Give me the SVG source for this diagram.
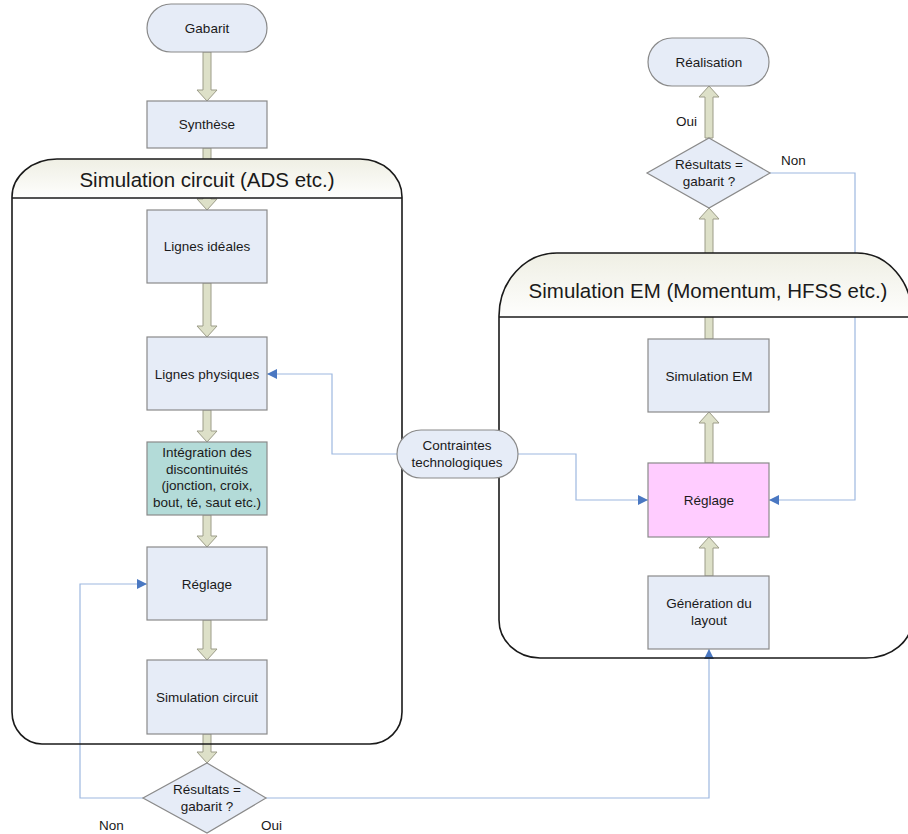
<svg xmlns="http://www.w3.org/2000/svg" width="908" height="834" viewBox="0 0 908 834">
<defs>
<linearGradient id="hdr" x1="0" y1="0" x2="0" y2="1">
<stop offset="0" stop-color="#efefe4"/>
<stop offset="1" stop-color="#fefefd"/>
</linearGradient>
<marker id="ah" viewBox="0 0 10 10" refX="10" refY="5" markerWidth="10" markerHeight="10" markerUnits="userSpaceOnUse" orient="auto">
<path d="M0,0 L10,5 L0,10 z" fill="#4a78c2"/>
</marker>
<style>
.box{fill:#e6ecf7;stroke:#8a8a8a;stroke-width:1.2}
.teal{fill:#b3dbd8;stroke:#8a8a8a;stroke-width:1.2}
.pink{fill:#ffccff;stroke:#8a8a8a;stroke-width:1.2}
.thick{fill:#dde0c8;stroke:#9c9c88;stroke-width:1}
.thin{fill:none;stroke:#9db8e0;stroke-width:1.2}
.cont{fill:none;stroke:#1a1a1a;stroke-width:1.6}
.hfill{fill:url(#hdr);stroke:none}
text{font-family:"Liberation Sans",Arial,sans-serif;font-size:13.5px;fill:#1a1a1a;text-anchor:middle}
.big{font-size:20.5px}
.lbl{text-anchor:start}
</style>
</defs>
<rect width="908" height="834" fill="#ffffff"/>

<g id="connectors">
<polygon class="thick" points="203,52 211,52 211,90 217,90 207,101 197,90 203,90"/>
<polygon class="thick" points="203,148 211,148 211,199 217,199 207,210 197,199 203,199"/>
<polygon class="thick" points="203,283 211,283 211,326 217,326 207,337 197,326 203,326"/>
<polygon class="thick" points="203,410 211,410 211,431 217,431 207,442 197,431 203,431"/>
<polygon class="thick" points="203,515 211,515 211,536 217,536 207,547 197,536 203,536"/>
<polygon class="thick" points="203,620 211,620 211,649 217,649 207,660 197,649 203,649"/>
<polygon class="thick" points="203,734 211,734 211,752 217,752 207,763 197,752 203,752"/>
<polygon class="thick" points="705,576 713,576 713,548 719,548 709,537 699,548 705,548"/>
<polygon class="thick" points="705,463 713,463 713,423 719,423 709,412 699,423 705,423"/>
<polygon class="thick" points="705,339 713,339 713,219 719,219 709,208 699,219 705,219"/>
<polygon class="thick" points="705,138 713,138 713,97 719,97 709,86 699,97 705,97"/>
<polyline class="thin" points="397,454 332,454 332,374 267,374" marker-end="url(#ah)"/>
<polyline class="thin" points="518,454 576,454 576,500 648,500" marker-end="url(#ah)"/>
<polyline class="thin" points="770,173 855,173 855,500 769,500" marker-end="url(#ah)"/>
<polyline class="thin" points="143,798 80,798 80,584 147,584" marker-end="url(#ah)"/>
<polyline class="thin" points="266,798 709,798 709,649" marker-end="url(#ah)"/>
<text class="lbl" x="676" y="126">Oui</text>
<text class="lbl" x="781" y="165">Non</text>
<text class="lbl" x="99" y="830">Non</text>
<text class="lbl" x="261" y="830">Oui</text>
</g>

<g id="container-circuit">
<path class="hfill" d="M12,198 L12,197 A45,38 0 0 1 57,159 L360,159 A42,38 0 0 1 402,197 L402,198 Z"/>
<path class="cont" d="M12,198 L402,198"/>
<path class="cont" d="M57,159 L360,159 A42,38 0 0 1 402,197 L402,712 A32,32 0 0 1 370,744 L42,744 A30,32 0 0 1 12,712 L12,197 A45,38 0 0 1 57,159 Z"/>
<text class="big" x="207" y="187">Simulation circuit (ADS etc.)</text>
</g>

<g id="container-em">
<path class="hfill" d="M499,317 L499,316 A58,63 0 0 1 557,253 L857,253 A55,63 0 0 1 912,316 L912,317 Z"/>
<path class="cont" d="M499,317 L912,317"/>
<path class="cont" d="M557,253 L857,253 A55,63 0 0 1 912,316 L912,620 A46,38 0 0 1 866,658 L540,658 A41,38 0 0 1 499,620 L499,316 A58,63 0 0 1 557,253 Z"/>
<text class="big" x="708" y="298">Simulation EM (Momentum, HFSS etc.)</text>
</g>

<g id="gabarit">
<rect class="box" x="147" y="4" width="120" height="48" rx="24" ry="24"/>
<text x="207" y="33">Gabarit</text>
</g>
<g id="synthese">
<rect class="box" x="147" y="101" width="120" height="47"/>
<text x="207" y="129">Synthèse</text>
</g>
<g id="lignes-ideales">
<rect class="box" x="147" y="210" width="120" height="73"/>
<text x="207" y="251">Lignes idéales</text>
</g>
<g id="lignes-physiques">
<rect class="box" x="147" y="337" width="120" height="73"/>
<text x="207" y="379">Lignes physiques</text>
</g>
<g id="integration">
<rect class="teal" x="147" y="442" width="120" height="73"/>
<text x="207" y="457">Intégration des</text>
<text x="207" y="474">discontinuités</text>
<text x="207" y="490">(jonction, croix,</text>
<text x="207" y="507">bout, té, saut etc.)</text>
</g>
<g id="reglage-circuit">
<rect class="box" x="147" y="547" width="120" height="73"/>
<text x="207" y="589">Réglage</text>
</g>
<g id="simulation-circuit">
<rect class="box" x="147" y="660" width="120" height="74"/>
<text x="207" y="702">Simulation circuit</text>
</g>
<g id="decision-circuit">
<polygon class="box" points="207,763 266,798 207,833 143,798"/>
<text x="207" y="794">Résultats =</text>
<text x="207" y="811">gabarit ?</text>
</g>

<g id="realisation">
<rect class="box" x="648" y="38" width="121" height="48" rx="24" ry="24"/>
<text x="709" y="67">Réalisation</text>
</g>
<g id="decision-em">
<polygon class="box" points="709,138 770,173 709,208 647,173"/>
<text x="709" y="169">Résultats =</text>
<text x="709" y="186">gabarit ?</text>
</g>
<g id="simulation-em">
<rect class="box" x="648" y="339" width="121" height="73"/>
<text x="709" y="381">Simulation EM</text>
</g>
<g id="reglage-em">
<rect class="pink" x="648" y="463" width="121" height="74"/>
<text x="709" y="505">Réglage</text>
</g>
<g id="generation-layout">
<rect class="box" x="648" y="576" width="121" height="73"/>
<text x="709" y="608">Génération du</text>
<text x="709" y="625">layout</text>
</g>

<g id="contraintes">
<rect class="box" x="397" y="430" width="121" height="48" rx="24" ry="24"/>
<text x="457" y="450">Contraintes</text>
<text x="457" y="467">technologiques</text>
</g>
</svg>
